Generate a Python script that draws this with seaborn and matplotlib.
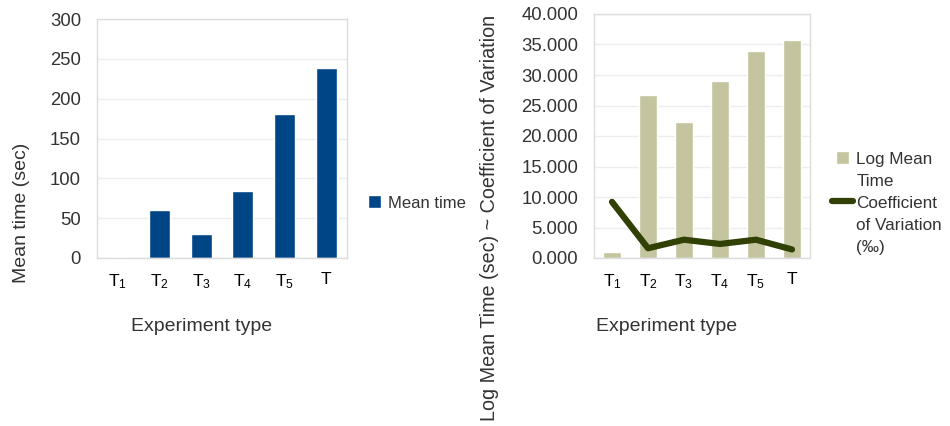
import numpy as np
import pandas as pd
import matplotlib
matplotlib.use("Agg")
import matplotlib.pyplot as plt
import seaborn as sns
from matplotlib.ticker import FormatStrFormatter, FixedLocator
from matplotlib.patches import Patch, Rectangle
from matplotlib.legend_handler import HandlerPatch

# Data
categories = ["T1", "T2", "T3", "T4", "T5", "T"]
tick_labels = [r"$\mathregular{T_1}$", r"$\mathregular{T_2}$", r"$\mathregular{T_3}$",
               r"$\mathregular{T_4}$", r"$\mathregular{T_5}$", "T"]
mean_time = [1.8, 60.5, 30, 83.5, 181, 238.6]
log_mean_time = [1.0, 26.8, 22.3, 29.0, 34.0, 35.8]
coef_variation = [9.2, 1.6, 3.0, 2.3, 3.0, 1.4]

# Style
sns.set_style("white")
plt.rcParams['font.family'] = ['Liberation Sans', 'DejaVu Sans']
plt.rcParams['mathtext.fontset'] = 'custom'
plt.rcParams['mathtext.rm'] = 'Liberation Sans'
blue = '#004586'
khaki = '#c4c49e'
olive = '#314004'
frame = '#dcdcdc'
grid = '#ededed'
text_gray = '#333333'

fig = plt.figure(figsize=(9.5, 4.26), dpi=100)
W, H = 950, 426
ax1 = fig.add_axes([97 / W, (H - 258) / H, 250 / W, 239 / H])
ax2 = fig.add_axes([594 / W, (H - 258) / H, 216 / W, 244 / H])


def style_axis(ax):
    for s in ax.spines.values():
        s.set_color(frame)
        s.set_linewidth(1)
    ax.yaxis.grid(True, color=grid, linewidth=1)
    ax.set_axisbelow(True)
    ax.set_xlim(-0.5, len(categories) - 0.5)
    ax.set_xticks(range(len(categories)), tick_labels)
    ax.xaxis.set_minor_locator(FixedLocator(np.arange(-0.5, len(categories), 1)))
    ax.tick_params(axis='x', which='major', length=0, pad=10, labelsize=12.5, colors='black')
    ax.tick_params(axis='x', which='minor', length=8, color=frame, width=1)
    ax.tick_params(axis='y', length=0, pad=11.5, labelsize=13.3, labelcolor=text_gray)


def square_patch(legend, orig_handle, xdescent, ydescent, width, height, fontsize):
    # square swatch centred in the handle box
    return Rectangle((-xdescent + (width - height) / 2, -ydescent), height, height)


# Chart 1: Mean time
sns.barplot(x=categories, y=mean_time, ax=ax1, color=blue, width=0.5,
            saturation=1, label="Mean time")
style_axis(ax1)
ax1.set_ylim(0, 300)
ax1.set_yticks(range(0, 301, 50))
ax1.set_ylabel("Mean time (sec)", fontsize=14, color=text_gray)
ax1.yaxis.set_label_coords(-0.268, 0.188)
ax1.set_xlabel("Experiment type", fontsize=14, color=text_gray)
ax1.xaxis.set_label_coords(0.42, -0.25)
ax1.legend(loc='center left', bbox_to_anchor=(1.022, 0.23), frameon=False,
           fontsize=12, handlelength=0.8, handleheight=0.8, handletextpad=0.45,
           labelcolor=text_gray)

# Chart 2: Log mean time + coefficient of variation
sns.barplot(x=categories, y=log_mean_time, ax=ax2, color=khaki, width=0.5,
            saturation=1)
sns.lineplot(x=np.arange(len(categories)), y=coef_variation, ax=ax2, color=olive,
             linewidth=4.5, label="Coefficient of Variation (‰)")
style_axis(ax2)
ax2.set_ylim(0, 40)
ax2.set_yticks(range(0, 41, 5))
ax2.yaxis.set_major_formatter(FormatStrFormatter('%.3f'))
ax2.set_ylabel("Log Mean Time (sec) ~ Coefficient of Variation", fontsize=14.2,
               color=text_gray)
ax2.yaxis.set_label_coords(-0.44, 0.164)
ax2.set_xlabel("Experiment type", fontsize=14, color=text_gray)
ax2.xaxis.set_label_coords(0.338, -0.246)

# legend: wrapped labels, handle next to the first line of each entry
line_h = ax2.get_lines()[-1]
bar_h = Patch(facecolor=ax2.patches[0].get_facecolor())
blank = Patch(alpha=0)
leg_handles = [bar_h, blank, line_h, blank, blank]
leg_labels = ["Log Mean", "Time", "Coefficient", "of Variation", "(‰)"]
ax2.legend(leg_handles, leg_labels,
           loc='center left', bbox_to_anchor=(1.032, 0.226), frameon=False,
           fontsize=12.3, handlelength=1.2, handleheight=0.8, handletextpad=0.2,
           labelspacing=0.38, labelcolor=text_gray,
           handler_map={bar_h: HandlerPatch(patch_func=square_patch)})

fig.savefig("out.png", dpi=100)
